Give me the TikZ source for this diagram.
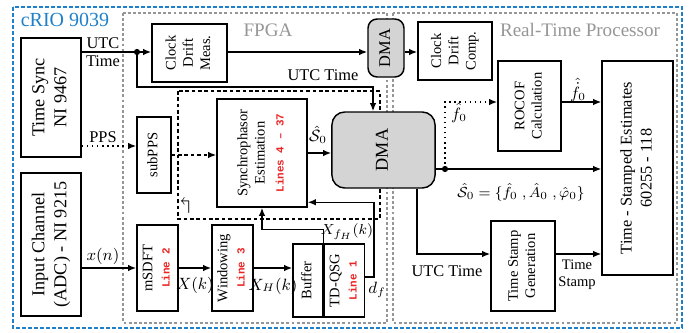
\documentclass[tikz,border=0pt]{standalone}
\usepackage{amsmath,amssymb}
\usepackage{fontspec}
\setmainfont{Liberation Serif}
\setmonofont{Liberation Mono}
\usetikzlibrary{arrows.meta,positioning,calc}
\definecolor{crioblue}{RGB}{30,128,200}
\definecolor{fpgagray}{RGB}{150,150,150}
\definecolor{codered}{RGB}{235,35,35}
\definecolor{dmagray}{RGB}{212,212,212}
\newcommand{\vlab}[1]{\rotatebox{90}{\begin{tabular}{@{}c@{}}#1\end{tabular}}}
\newcommand{\codeln}[1]{{\color{codered}\ttfamily\bfseries\fontsize{6}{7}\selectfont #1}}
\tikzset{
  >={Latex[length=4.5pt,width=3.6pt]},
  box/.style={
    rectangle, draw, line width=0.8pt,
    fill=white, inner sep=1pt, font=\footnotesize
  },
  iobox/.style={box, font=\normalsize},
  dmabox/.style={box, fill=dmagray, rounded corners=5pt},
  arrow/.style={->, line width=0.8pt},
  ppsline/.style={arrow, dotted},
  loopline/.style={dash pattern=on 2pt off 1.5pt, line width=0.8pt},
  region/.style={dash pattern=on 1.6pt off 1.2pt, line width=0.6pt, draw=fpgagray},
  lbl/.style={font=\small, inner sep=1pt},
  jdot/.style={circle, fill, inner sep=0pt, minimum size=3.4pt},
}

\begin{document}
\begin{tikzpicture}[x=0.55pt, y=-0.55pt]
\useasboundingbox (0,0) rectangle (697,332);
% --- Regions ---
\draw[crioblue, line width=1.1pt, dash pattern=on 2.2pt off 1.1pt] (13,7) rectangle (682,328);
\draw[region] (123,13) rectangle (387,323);
\draw[region] (393,13) rectangle (677,323);
\node[font=\fontsize{11}{13}\selectfont, text=crioblue] (crio) at (65,20) {cRIO 9039};
\node[font=\fontsize{10.5}{12}\selectfont, text=fpgagray] (fpga) at (268,30) {FPGA};
\node[font=\fontsize{10.5}{12}\selectfont, text=fpgagray] (rtp) at (580,30) {Real-Time Processor};
% feedback loop of the estimator
\draw[loopline] (178,91) rectangle (380,219);
\node[inner sep=0pt, font=\large] (loopsym) at (185,206) {$\boldsymbol{\Lsh}$};
% --- Nodes ---
\node[iobox, minimum width=33pt, minimum height=65.5pt] (tsync) at (51,97.5) {\vlab{Time Sync\\NI 9467}};
\node[iobox, minimum width=33pt, minimum height=78.7pt] (inch) at (51,244.5) {\vlab{Input Channel\\(ADC) - NI 9215}};
\node[box, minimum width=41.3pt, minimum height=31.9pt] (cdm) at (189.5,53) {\vlab{Clock\\Drift\\Meas.}};
\node[dmabox, font=\small, minimum width=19.8pt, minimum height=31.9pt] (dmas) at (386,48) {\vlab{DMA}};
\node[box, minimum width=40.7pt, minimum height=31.9pt] (cdc) at (455,51) {\vlab{Clock\\Drift\\Comp.}};
\node[box, minimum width=18.7pt, minimum height=41.8pt] (subpps) at (154,155) {\vlab{subPPS}};
\node[box, minimum width=49.5pt, minimum height=59.4pt] (synch) at (262,153) {\vlab{Synchrophasor\\Estimation\\[1pt]\codeln{Lines 4 – 37}}};
\node[dmabox, font=\normalsize, rounded corners=7pt, minimum width=56.7pt, minimum height=41.8pt] (dmab) at (383.5,150) {\vlab{DMA}};
\node[box, minimum width=22.6pt, minimum height=47.3pt] (msdft) at (157.5,268) {\vlab{mSDFT\\\codeln{Line 2}}};
\node[box, minimum width=22.6pt, minimum height=47.3pt] (win) at (232.5,268) {\vlab{Windowing\\\codeln{Line 3}}};
\node[box, minimum width=16.5pt, minimum height=40.2pt] (buf) at (308,280.5) {\vlab{Buffer}};
\node[box, minimum width=22pt, minimum height=40.2pt, right=0pt of buf] (tdqsg) {\vlab{TD-QSG\\\codeln{Line 1}}};
\node[box, minimum width=34.7pt, minimum height=49.5pt] (rocof) at (529.5,106) {\vlab{ROCOF\\Calculation}};
\node[box, minimum width=35.2pt, minimum height=49.5pt] (tsg) at (523,266) {\vlab{Time Stamp\\Generation}};
\node[box, font=\small, minimum width=39pt, minimum height=117.7pt] (tse) at (637.5,168) {\vlab{Time - Stamped Estimates\\60255 - 118}};
% --- Junctions ---
\coordinate (utcj) at (137,52);
\coordinate (utcb) at (373,87);
\coordinate (estj) at (445,169);
\node[jdot] at (utcj) {};
\node[jdot] at (estj) {};
% --- Arrows ---
\draw[arrow] (tsync.east |- utcj) -- (utcj) -- (utcj -| cdm.west);
\draw[arrow] (utcj) |- (utcb) -- (utcb |- dmab.north);            % UTC time to DMA
\draw[arrow] (cdm.east |- utcj) -- (utcj -| dmas.west);
\draw[arrow] (dmas.east |- utcj) -- (utcj -| cdc.west);
\draw[ppsline] (tsync.east |- 0,146) -- (subpps.west |- 0,146);
\draw[arrow, loopline] (subpps.east) -- (subpps.east -| synch.west);
\draw[arrow] (inch.east |- msdft.west) -- (msdft.west);
\draw[arrow] (msdft.east) -- (win.west);
\draw[arrow] (win.east) -- (win.east -| buf.west);
\draw[arrow] (buf.north east) -- ++(0,-14) -| (synch.south);
\draw[arrow] ([yshift=2pt]tdqsg.east) -- ++(9,0) |- ([yshift=3pt]synch.south east);
\draw[arrow] (synch.east) -- (synch.east -| dmab.west);
\draw[arrow] (dmab.east |- estj) -- (estj) -- (estj -| tse.west);
\draw[ppsline] (estj) |- ([yshift=2.2pt]rocof.west);
\draw[arrow] ([yshift=2.2pt]rocof.east) -- ([yshift=2.2pt]rocof.east -| tse.west);
\draw[arrow] ([xshift=18.4pt]dmab.south) |- ([yshift=6.6pt]tsg.west);
\draw[arrow] ([yshift=6.6pt]tsg.east) -- ([yshift=6.6pt]tsg.east -| tse.west);
% --- Labels ---
\node[lbl] (lutc) at (103,43) {UTC};
\node[lbl] (ltime) at (103,61) {Time};
\node[lbl] (lutcb) at (323,75) {UTC Time};
\node[lbl] (lpps) at (103,137) {PPS};
\node[lbl] (lxn) at (103,256) {$x(n)$};
\node[lbl] (lxk) at (195,285) {$X(k)$};
\node[lbl] (lxh) at (273,286) {$X_H(k)$};
\node[lbl, font=\footnotesize] (lxfh) at (347,232) {$X_{f_H}(k)$};
\node[lbl] (ldf) at (377,290) {$d_f$};
\node[lbl] (ls0) at (318,135) {$\hat{\mathcal{S}}_0$};
\node[lbl] (lf0) at (459,113) {$\hat{f}_0$};
\node[lbl] (lfd) at (578,90) {$\hat{\dot{f}}_0$};
\node[lbl, font=\footnotesize] (lest) at (521,192) {$\hat{\mathcal{S}}_0=\{\hat{f}_0\;,\hat{A}_0\;,\hat{\varphi}_0\}$};
\node[lbl] (lutcl) at (447,271) {UTC Time};
\node[lbl, font=\footnotesize, align=center] (lstamp) at (577,275) {Time\\Stamp};
\end{tikzpicture}
\end{document}
